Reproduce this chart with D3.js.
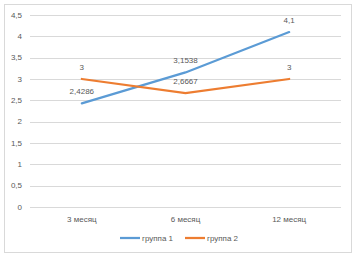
<!DOCTYPE html>
<html>
<head>
<meta charset="utf-8">
<script src="https://cdn.jsdelivr.net/npm/d3@7"></script>
<style>
  body { margin: 0; background: #fff; }
  text { font-family: "Liberation Sans", "DejaVu Sans", sans-serif; fill: #595959; }
</style>
</head>
<body>
<div id="chart"></div>
<script>
const categories = ["3 месяц", "6 месяц", "12 месяц"];
const group1 = [2.4286, 3.1538, 4.1];
const group2 = [3, 2.6667, 3];
const seriesNames = ["группа 1", "группа 2"];
const yTicks = [0, 0.5, 1, 1.5, 2, 2.5, 3, 3.5, 4, 4.5];

const width = 357, height = 258;
const colors = ["#5B9BD5", "#ED7D31"];
const fmt = (v) => String(v).replace(".", ",");
const fs = "8px";

const svg = d3.select("#chart").append("svg")
  .attr("width", width)
  .attr("height", height);

// рамка
svg.append("rect")
  .attr("x", 4.5).attr("y", 4.5)
  .attr("width", 347).attr("height", 248)
  .attr("fill", "#fff")
  .attr("stroke", "#D9D9D9");

const x = d3.scaleBand().domain(categories).range([30, 341]);
const y = d3.scaleLinear().domain([0, 4.5]).range([207, 15]);

// сетка
svg.selectAll(".grid")
  .data(yTicks)
  .enter()
  .append("line")
  .attr("x1", 30).attr("x2", 341)
  .attr("y1", (d) => Math.round(y(d)) + 0.5)
  .attr("y2", (d) => Math.round(y(d)) + 0.5)
  .attr("stroke", "#D9D9D9")
  .attr("stroke-width", 1);

// подписи оси Y
svg.selectAll(".ylab")
  .data(yTicks)
  .enter()
  .append("text")
  .attr("x", 22)
  .attr("y", (d) => y(d))
  .attr("dy", "0.35em")
  .attr("text-anchor", "end")
  .style("font-size", fs)
  .text((d) => fmt(d));

// подписи оси X
svg.selectAll(".xlab")
  .data(categories)
  .enter()
  .append("text")
  .attr("x", (d) => x(d) + x.bandwidth() / 2)
  .attr("y", 219)
  .attr("dy", "0.35em")
  .attr("text-anchor", "middle")
  .style("font-size", fs)
  .text((d) => d);

const series = [group1, group2];
const line = d3.line()
  .x((d, i) => x(categories[i]) + x.bandwidth() / 2)
  .y((d) => y(d));

series.forEach((vals, s) => {
  svg.append("path")
    .datum(vals)
    .attr("d", line)
    .attr("fill", "none")
    .attr("stroke", colors[s])
    .attr("stroke-width", 2.25)
    .attr("stroke-linecap", "round");

  svg.selectAll(".lab" + s)
    .data(vals)
    .enter()
    .append("text")
    .attr("x", (d, i) => x(categories[i]) + x.bandwidth() / 2)
    .attr("y", (d) => y(d) - 12)
    .attr("dy", "0.35em")
    .attr("text-anchor", "middle")
    .style("font-size", fs)
    .text((d) => fmt(d));
});

// легенда
const legendX = [120, 185];
seriesNames.forEach((name, s) => {
  svg.append("line")
    .attr("x1", legendX[s]).attr("x2", legendX[s] + 20)
    .attr("y1", 238).attr("y2", 238)
    .attr("stroke", colors[s])
    .attr("stroke-width", 2.25);
  svg.append("text")
    .attr("x", legendX[s] + 22)
    .attr("y", 238)
    .attr("dy", "0.35em")
    .style("font-size", fs)
    .text(name);
});
</script>
</body>
</html>
